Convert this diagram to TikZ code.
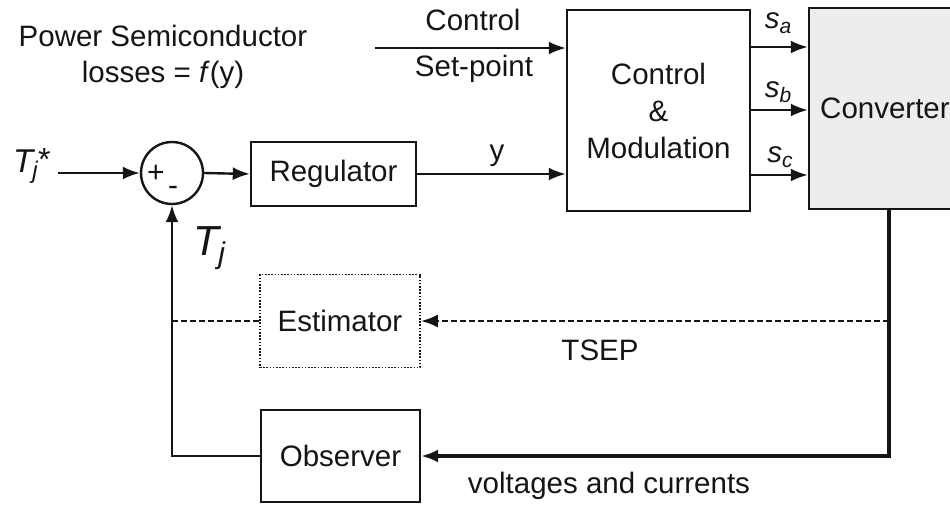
\documentclass[tikz,border=0pt]{standalone}
\usepackage{fontspec}
\setmainfont{Liberation Sans}
\usetikzlibrary{arrows.meta}
\definecolor{convfill}{HTML}{EDEDED}
\definecolor{ink}{HTML}{151515}
\newcommand{\sigsub}[1]{\textit{s}\raisebox{-5pt}{\fontsize{21}{21}\selectfont\textit{#1}}}
\begin{document}
\begin{tikzpicture}[x=1pt,y=-1pt,
  every node/.style={font=\fontsize{29.5}{37}\selectfont, text=ink},
  box/.style={draw=ink, line width=2.4pt, rectangle, inner sep=0pt, align=center},
  dotbox/.style={draw=ink, line width=1.5pt, dash pattern=on 1.6pt off 1.6pt, rectangle, inner sep=0pt, align=center},
  arr/.style={draw=ink, line width=2.4pt, -{Latex[length=17pt,width=13pt]}},
  ln/.style={draw=ink, line width=2.4pt},
  dsh/.style={draw=ink, line width=2.8pt, dash pattern=on 6pt off 3pt},
]
\useasboundingbox (0,0) rectangle (950,504);

% blocks
\node[box, minimum width=165pt, minimum height=64pt] (reg) at (333.5,174) {Regulator};
\node[box, minimum width=183pt, minimum height=201pt] (cm) at (658.5,110.5) {Control\\\&\\Modulation};
\node[box, fill=convfill, minimum width=170pt, minimum height=201pt] (conv) at (894,108.5) {};
\node[anchor=base west, inner sep=0pt] (convtxt) at (820,118) {Converter};
\node[dotbox, minimum width=160pt, minimum height=93pt] (est) at (340,321) {Estimator};
\node[box, minimum width=159pt, minimum height=92pt] (obs) at (340.5,456) {Observer};
\node[circle, draw=ink, line width=2.4pt, minimum size=62pt, inner sep=0pt] (sum) at (172,173) {};
\node (lplus) at (156,174) {\fontsize{30}{30}\selectfont +};
\node (lminus) at (173,191) {\fontsize{30}{30}\selectfont -};

% coordinates
\coordinate (tin) at (58,173);
\coordinate (csp) at (375,48);
\coordinate (ya) at (0,47);
\coordinate (yb) at (0,110);
\coordinate (yc) at (0,175);
\coordinate (rt) at (889,456);
\coordinate (dr) at (889,321);

% forward path
\draw[arr] (tin) -- (sum.west);
\draw[arr] (sum.east) -- (reg.west);
\draw[arr] (reg.east) -- (cm.west |- reg.east);
\draw[arr] (csp) -- (cm.west |- csp);
\draw[arr] (cm.east |- ya) -- (conv.west |- ya);
\draw[arr] (cm.east |- yb) -- (conv.west |- yb);
\draw[arr] (cm.east |- yc) -- (conv.west |- yc);

% feedback
\draw[ln, line width=3.2pt, -{Latex[length=17pt,width=13pt]}] (conv.south -| rt) -- (rt) -- (obs.east);
\draw[arr] (obs.west) -| (sum.south);
\draw[dsh, -{Latex[length=17pt,width=13pt]}] (dr) -- (est.east);
\draw[dsh] (est.west) -- (est.west -| sum.south);

% labels
\node[anchor=base] (lpow) at (163,46) {Power Semiconductor};
\node[anchor=base] (lloss) at (163,82) {losses = \textit{f}(y)};
\node[anchor=base] (lctl) at (473,30) {Control};
\node[anchor=base] (lset) at (474,76) {Set-point};
\node[anchor=base] (ly) at (497,160) {y};
\node[anchor=base] (ltsep) at (600,360) {TSEP};
\node[anchor=base] (lvc) at (609,493) {voltages and currents};
\node[anchor=base] (lsa) at (778,28) {\sigsub{a}};
\node[anchor=base] (lsb) at (778,97) {\sigsub{b}};
\node[anchor=base] (lsc) at (780,162) {\sigsub{c}};
\node[anchor=base west, inner sep=0pt] (ltstar) at (13,172) {\fontsize{33}{33}\selectfont\textit{T}\kern-3pt\raisebox{-6pt}{\fontsize{24}{24}\selectfont\textit{j}}\raisebox{2pt}{\fontsize{32}{32}\selectfont *}};
\node[anchor=base west, inner sep=0pt] (ltj) at (193,255) {\fontsize{42}{42}\selectfont\textit{T}\kern-3pt\raisebox{-8pt}{\fontsize{30}{30}\selectfont\textit{j}}};
\end{tikzpicture}
\end{document}
